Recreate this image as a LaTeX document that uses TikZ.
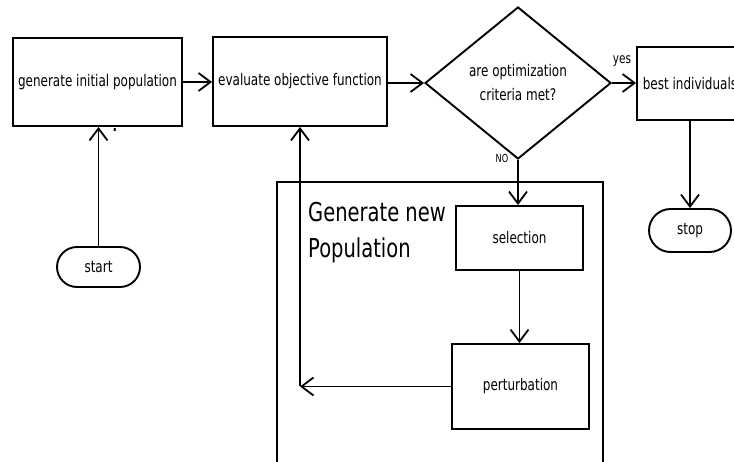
\documentclass[tikz,border=0pt]{standalone}
\usepackage{fontspec}
\setmainfont{DejaVu Sans}[FakeStretch=0.75]
\usetikzlibrary{arrows.meta,shapes.geometric,shapes.misc}

\begin{document}
\begin{tikzpicture}[x=1pt,y=-1pt,
  txt/.style={font=\fontsize{16}{19}\selectfont},
  box/.style={draw,line width=1.9pt,rectangle,inner sep=0pt,txt},
  term/.style={draw,line width=1.9pt,rounded rectangle,inner sep=0pt,txt},
  decision/.style={draw,line width=1.9pt,diamond,inner sep=0pt,align=center,
    font=\fontsize{16}{24}\selectfont},
  flow/.style={line width=1.8pt,-{Straight Barb[length=12pt,width=18pt]}}]
\useasboundingbox (0,0) rectangle (734,462);
\clip (0,0) rectangle (734,462);

% outer frame of the population loop (open at the bottom)
\node[draw,line width=1.9pt,minimum width=326pt,minimum height=300pt,inner sep=0pt]
  (frame) at (440,332) {};
\node[anchor=north west,inner sep=0pt,align=left,
  font=\fontsize{26}{36}\selectfont] (title) at (308,202) {Generate new\\Population};

% main flow
\node[box,minimum width=169pt,minimum height=88pt] (gen) at (97.5,82) {generate initial population};
\node[box,minimum width=174pt,minimum height=89pt] (eval) at (300,81.5) {evaluate objective function};
\node[decision,minimum width=186pt,minimum height=152pt] (dia) at (518,83) {are optimization\\criteria met?};
\node[box,minimum width=106pt,minimum height=73pt] (best) at (690,83.5) {best individuals};
\node[term,minimum width=82pt,minimum height=43pt] (stop) at (690,230.5) {stop};
\node[term,minimum width=83pt,minimum height=40pt] (start) at (98.5,267) {start};
\node[box,minimum width=127pt,minimum height=64pt] (sel) at (519.5,238) {selection};
\node[box,minimum width=137pt,minimum height=85pt] (pert) at (520.5,386.5) {perturbation};
\coordinate (corner) at (300,386.5);

% labels
\node[font=\fontsize{14}{16}\selectfont,inner sep=0pt] (yes) at (622,61) {yes};
\node[font=\fontsize{11}{13}\selectfont,inner sep=0pt] (no) at (502,158) {NO};
\node[txt,inner sep=0pt] (dot) at (115,130) {\textbf{.}};

% connectors
\draw[flow] (gen.east) -- (gen.east -| eval.west);
\draw[flow] (eval.east |- dia.west) -- (dia.west);
\draw[flow] (dia.east) -- (dia.east -| best.west);
\draw[flow] (dia.south) -- (dia.south |- sel.north);
\draw[flow] (sel.south) -- (sel.south |- pert.north);
\draw[flow] (pert.west) -- (corner);
\draw[flow] (corner) -- (corner |- eval.south);
\draw[flow] (best.south) -- (stop.north);
\draw[flow] (start.north) -- (start.north |- gen.south);
\end{tikzpicture}
\end{document}
